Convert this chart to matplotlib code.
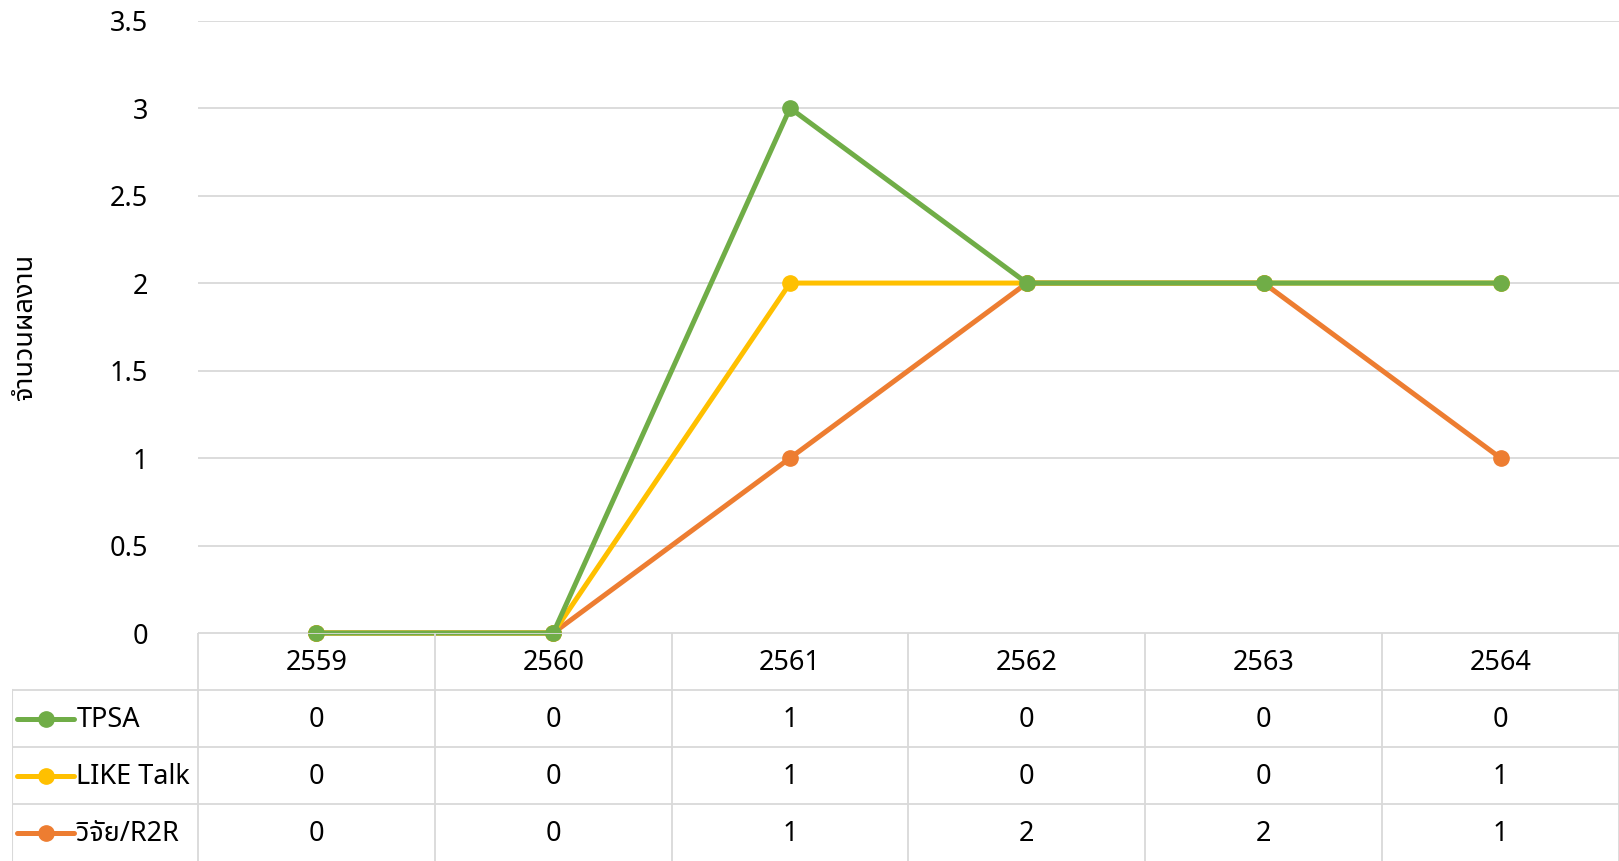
import numpy as np
import matplotlib
matplotlib.use("Agg")
import matplotlib.pyplot as plt

plt.rcParams["font.family"] = ["Noto Sans", "DejaVu Sans"]

years = ["2559", "2560", "2561", "2562", "2563", "2564"]
series_names = ["TPSA", "LIKE Talk", "วิจัย/R2R"]
tpsa = [0, 0, 1, 0, 0, 0]
like_talk = [0, 0, 1, 0, 0, 1]
r2r = [0, 0, 1, 2, 2, 1]
colors = ["#70AD47", "#FFC000", "#ED7D31"]
y_label = "จำนวนผลงาน"

# stacked line: r2r at the bottom, then LIKE Talk, then TPSA
table_rows = [tpsa, like_talk, r2r]
stack_r2r = np.array(r2r)
stack_like = stack_r2r + np.array(like_talk)
stack_tpsa = stack_like + np.array(tpsa)

W, H = 1619, 861
fig = plt.figure(figsize=(W / 100, H / 100), dpi=100)

ax_left = 198 / W
ax_bottom = 228 / H
ax_top = 1 - 20.6 / H
ax = fig.add_axes([ax_left, ax_bottom, 1 - ax_left, ax_top - ax_bottom])

x = np.arange(len(years))
grid_c = "#d9d9d9"
fs = 19.5

for vals, c in [(stack_r2r, colors[2]), (stack_like, colors[1]), (stack_tpsa, colors[0])]:
    ax.plot(x, vals, color=c, lw=3.6, marker="o", ms=11, mec=c, mfc=c,
            solid_joinstyle="round", clip_on=False, zorder=3)

ax.set_xlim(-0.5, len(years) - 0.5)
ax.set_ylim(0, 3.5)
ax.set_yticks(np.arange(0, 3.51, 0.5))
ax.set_yticklabels(["0", "0.5", "1", "1.5", "2", "2.5", "3", "3.5"], fontsize=fs)
ax.tick_params(axis="y", length=0, pad=36)
ax.set_xticks([])
ax.grid(axis="y", color=grid_c, lw=1.3)
ax.set_axisbelow(True)
for s in ax.spines.values():
    s.set_visible(False)
ax.set_ylabel(y_label, fontsize=fs, labelpad=12,
              family=["Noto Sans Thai", "Noto Sans", "DejaVu Sans"])
ax.yaxis.set_label_coords(-0.112, 0.5)

# data table below the plot
tab_left = 12.4 / W
tab = fig.add_axes([tab_left, 0, 1 - tab_left, ax_bottom])
unit = (1 - ax_left) / len(years)
left_x = -0.5 - (ax_left - tab_left) / unit
tab.set_xlim(left_x, len(years) - 0.5)
tab.set_ylim(4, 0)
tab.axis("off")

tab.plot([-0.5, len(years) - 0.5], [0, 0], color=grid_c, lw=1.3)
for r in [1, 2, 3]:
    tab.plot([left_x, len(years) - 0.5], [r, r], color=grid_c, lw=1.3)
tab.plot([left_x, left_x], [1, 4], color=grid_c, lw=1.5)
for i in range(len(years) + 1):
    tab.plot([i - 0.5, i - 0.5], [0, 4], color=grid_c, lw=1.3)

for i, yr in enumerate(years):
    tab.text(i, 0.52, yr, ha="center", va="center", fontsize=fs)

for r, (name, vals, c) in enumerate(zip(series_names, table_rows, colors)):
    yc = r + 1.5
    k0 = left_x + 5 / unit / W
    k1 = left_x + 62 / unit / W
    tab.plot([k0, k1], [yc, yc], color=c, lw=3.6, solid_capstyle="round")
    tab.plot([(k0 + k1) / 2], [yc], "o", color=c, ms=11)
    tab.text(left_x + 64 / unit / W, yc + 0.02, name, ha="left", va="center", fontsize=fs,
             family=["Noto Sans Thai", "Noto Sans", "DejaVu Sans"])
    for i, v in enumerate(vals):
        tab.text(i, yc + 0.02, str(v), ha="center", va="center", fontsize=fs)

fig.savefig("out.png", dpi=100)
